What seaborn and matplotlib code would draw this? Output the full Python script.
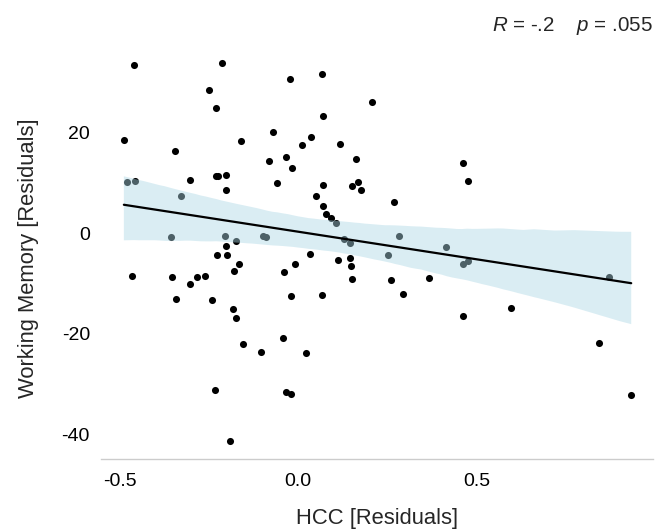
import matplotlib
matplotlib.use("Agg")
import matplotlib.pyplot as plt
import seaborn as sns
import numpy as np
import pandas as pd

hcc = [-0.460, -0.214, -0.022, -0.249, -0.229, 0.068, 0.206, 0.070, -0.488, -0.069,
       -0.160, 0.036, 0.010, 0.118, -0.344, -0.081, -0.033, -0.016, 0.162, 0.462,
       0.476, -0.304, -0.229, -0.223, -0.202, -0.058, -0.202, 0.071, 0.150, 0.168,
       0.176, 0.051, 0.270, 0.071, 0.078, 0.092, -0.479, -0.457, -0.327, -0.355,
       -0.204, -0.175, -0.099, -0.090, 0.106, 0.129, 0.146, 0.283, 0.251, 0.414,
       0.461, 0.477, 0.146, 0.366, 0.872, -0.201, -0.227, -0.199, -0.166, -0.180,
       -0.039, -0.465, -0.353, -0.282, -0.262, -0.304, -0.341, -0.241, -0.020, -0.183,
       -0.174, -0.041, -0.154, -0.103, -0.234, -0.191, -0.033, -0.020, 0.034, -0.010,
       0.113, 0.149, 0.151, 0.261, 0.068, 0.294, 0.461, 0.023, 0.596, 0.844, 0.933]
wm = [33.46, 33.80, 30.62, 28.49, 24.97, 31.67, 26.10, 23.32, 18.55, 20.08,
      18.29, 19.15, 17.61, 17.69, 16.42, 14.31, 15.17, 13.04, 14.83, 13.98,
      10.34, 10.54, 11.39, 11.39, 11.53, 9.94, 8.61, 9.54, 9.34, 10.14,
      8.67, 7.36, 6.16, 5.49, 3.90, 3.10, 10.10, 10.46, 7.36, -0.68,
      -0.54, -1.53, -0.64, -0.74, 2.11, -1.13, -1.93, -0.60, -4.31, -2.78,
      -6.04, -5.57, -4.97, -8.95, -8.69, -2.47, -4.31, -4.31, -6.10, -7.50,
      -7.63, -8.49, -8.69, -8.63, -8.43, -10.08, -13.00, -13.32, -12.47, -14.99,
      -16.78, -20.87, -22.07, -23.60, -31.09, -41.23, -31.61, -31.89, -4.06, -6.04,
      -5.31, -6.50, -9.09, -9.34, -12.21, -12.13, -16.38, -23.86, -14.85, -21.75, -32.21]

x_ticks = [-0.5, 0.0, 0.5]
x_tick_labels = ["-0.5", "0.0", "0.5"]
y_ticks = [-40, -20, 0, 20]
y_tick_labels = ["-40", "-20", "0", "20"]
x_label = "HCC [Residuals]"
y_label = "Working Memory [Residuals]"
stat_text = r"$R$ = -.2    $p$ = .055"

df = pd.DataFrame({"hcc": hcc, "wm": wm})

sns.set_style("white")
plt.rcParams["font.family"] = ["Liberation Sans", "DejaVu Sans"]
plt.rcParams["mathtext.fontset"] = "custom"
plt.rcParams["mathtext.rm"] = "Liberation Sans"
plt.rcParams["mathtext.it"] = "Liberation Sans:italic"

fig = plt.figure(figsize=(6.72, 5.3), dpi=100)
ax = fig.add_axes([101/672, 71/530, 552/672, (459-57)/530])

sns.regplot(data=df, x="hcc", y="wm", ax=ax, ci=95, n_boot=1000, seed=0,
            scatter_kws=dict(color="black", s=26, alpha=1, linewidths=0),
            line_kws=dict(color="black", lw=1.6))

band = ax.collections[-1]
band.set_facecolor("lightblue")
band.set_edgecolor("none")
band.set_alpha(0.45)

ax.set_xlim(-0.552, 0.994)
ax.set_ylim(-44.9, 35.05)
ax.set_xticks(x_ticks)
ax.set_xticklabels(x_tick_labels)
ax.set_yticks(y_ticks)
ax.set_yticklabels(y_tick_labels)
ax.tick_params(axis="both", length=0, labelsize=14, colors="black")
ax.tick_params(axis="x", pad=10)
ax.tick_params(axis="y", pad=8)
ax.set_xlabel(x_label, fontsize=15.8, labelpad=13)
ax.set_ylabel(y_label, fontsize=15.8, labelpad=16)

sns.despine(ax=ax, left=True)
ax.spines["bottom"].set_color("#cccccc")
ax.spines["bottom"].set_linewidth(1.0)

ax.set_title(stat_text, loc="right", fontsize=14.8, pad=19)

fig.savefig("out.png", dpi=100)
